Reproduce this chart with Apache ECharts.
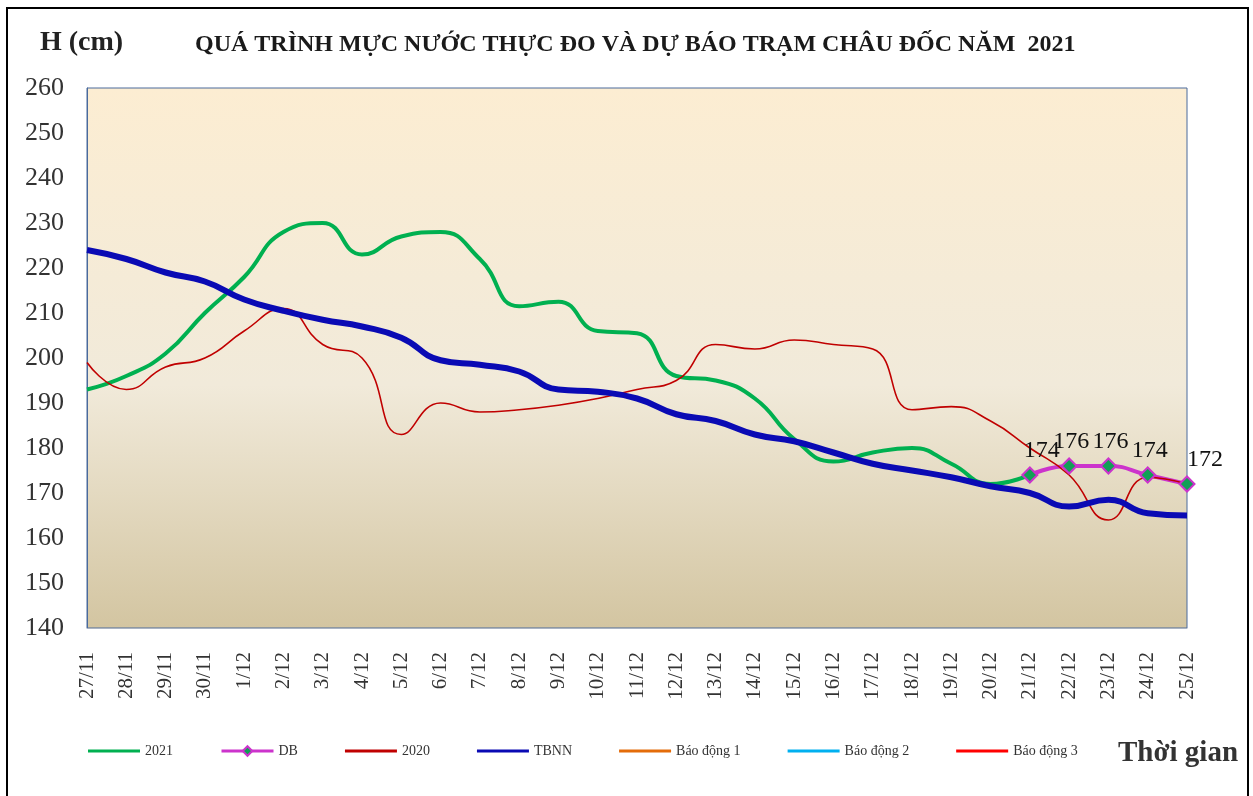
<!DOCTYPE html>
<html>
<head>
<meta charset="utf-8">
<script src="https://cdn.jsdelivr.net/npm/echarts@6/dist/echarts.min.js"></script>
<style>
  html, body { margin: 0; padding: 0; background: #fff; }
  #chart { width: 1253px; height: 796px; }
</style>
</head>
<body>
<div id="chart"></div>
<script>
// --- số liệu ---
const categories = ['27/11', '28/11', '29/11', '30/11', '1/12', '2/12', '3/12', '4/12', '5/12', '6/12',
  '7/12', '8/12', '9/12', '10/12', '11/12', '12/12', '13/12', '14/12', '15/12', '16/12',
  '17/12', '18/12', '19/12', '20/12', '21/12', '22/12', '23/12', '24/12', '25/12'];

// thực đo 2021
const h2021 = [193, 196, 201, 210, 218, 228, 230, 223, 227, 228,
  222, 211.5, 212.5, 206, 205.5, 196, 195, 191, 182, 177,
  179, 180, 176.5, 172, 174, null, null, null, null];

// dự báo
const hDB = [null, null, null, null, null, null, null, null, null, null,
  null, null, null, null, null, null, null, null, null, null,
  null, null, null, null, 174, 176, 176, 174, 172];

// cùng kỳ 2020
const h2020 = [199, 193, 198, 200, 206, 211, 203, 200, 183, 190,
  188, 188.5, 189.5, 191, 193, 195, 203, 202, 204, 203,
  202, 188.5, 189.2, 186, 180, 174, 164, 173.5, 172];

// trung bình nhiều năm
const hTBNN = [224, 222, 219, 217, 213, 210.5, 208.5, 207, 204.5, 199.5,
  198.5, 197, 193, 192.5, 191, 187.5, 186, 183, 181.5, 179,
  176.5, 175, 173.5, 171.5, 170, 167, 168.5, 165.5, 165];

// mức báo động (ngoài khung trục, chỉ hiện ở chú thích)
const bd1 = [];
const bd2 = [];
const bd3 = [];

const yTicks = { min: 140, max: 260, step: 10 };

const SERIF = '"Liberation Serif", "DejaVu Serif", serif';

// lệch nhãn số dự báo
const dbLabelOffset = [[12, 0], [2, 0], [2, 0], [2, 0], [18, 0]];

const chart = echarts.init(document.getElementById('chart'));

let k = 0;
const dbData = hDB.map(v => {
  if (v === null) return null;
  const off = dbLabelOffset[k++];
  return { value: v, label: { offset: off } };
});

const lineSeries = (name, data, color, width) => ({
  name: name,
  type: 'line',
  data: data,
  smooth: 0.5,
  symbol: 'none',
  connectNulls: false,
  lineStyle: { color: color, width: width },
  itemStyle: { color: color }
});

const LINE_ICON = 'path://M0,0H52V3H0Z';

const option = {
  backgroundColor: '#fff',
  animation: false,
  title: {
    text: 'QUÁ TRÌNH MỰC NƯỚC THỰC ĐO VÀ DỰ BÁO TRẠM CHÂU ĐỐC NĂM  2021',
    left: 190,
    top: 28,
    textStyle: { fontFamily: SERIF, fontSize: 24, fontWeight: 'bold', color: '#1a1a1a' }
  },
  graphic: [
    {
      type: 'rect',
      shape: { x: 7, y: 8, width: 1241, height: 800 },
      style: { fill: 'none', stroke: '#000', lineWidth: 2 },
      silent: true
    },
    {
      type: 'text',
      left: 40,
      top: 29,
      style: { text: 'H (cm)', font: 'bold 28px ' + SERIF, fill: '#222' }
    },
    {
      type: 'text',
      left: 1118,
      top: 739,
      style: { text: 'Thời gian', font: 'bold 29px ' + SERIF, fill: '#333' }
    }
  ],
  legend: {
    left: 88,
    top: 744,
    padding: 0,
    itemWidth: 52,
    itemHeight: 12,
    itemGap: 47,
    lineStyle: { width: 3 },
    textStyle: { fontFamily: SERIF, fontSize: 14, color: '#333' },
    data: [
      { name: '2021', icon: LINE_ICON },
      { name: 'DB' },
      { name: '2020', icon: LINE_ICON },
      { name: 'TBNN', icon: LINE_ICON },
      { name: 'Báo động 1', icon: LINE_ICON },
      { name: 'Báo động 2', icon: LINE_ICON },
      { name: 'Báo động 3', icon: LINE_ICON }
    ]
  },
  grid: {
    left: 87,
    right: 66,
    top: 88,
    bottom: 168,
    show: true,
    borderColor: '#4a6a9c',
    borderWidth: 1,
    backgroundColor: new echarts.graphic.LinearGradient(0, 0, 0, 1, [
      { offset: 0, color: '#fcedd2' },
      { offset: 0.55, color: '#f1eada' },
      { offset: 1, color: '#d3c5a1' }
    ])
  },
  xAxis: {
    type: 'category',
    data: categories,
    boundaryGap: false,
    axisLine: { lineStyle: { color: '#a9b3c4', width: 1 } },
    axisTick: { show: false },
    splitLine: { show: false },
    axisLabel: {
      rotate: 90,
      margin: 24,
      interval: 0,
      fontFamily: SERIF,
      fontSize: 21,
      color: '#333'
    }
  },
  yAxis: {
    type: 'value',
    min: yTicks.min,
    max: yTicks.max,
    interval: yTicks.step,
    axisLine: { show: true, lineStyle: { color: '#4a6a9c', width: 1 } },
    axisTick: { show: false },
    splitLine: { show: false },
    axisLabel: {
      margin: 23,
      fontFamily: SERIF,
      fontSize: 26,
      color: '#333'
    }
  },
  series: [
    lineSeries('2021', h2021, '#00b050', 4),
    {
      name: 'DB',
      type: 'line',
      data: dbData,
      smooth: 0.5,
      symbol: 'diamond',
      symbolSize: 15,
      lineStyle: { color: '#cc33cc', width: 4 },
      itemStyle: { color: '#119f56', borderColor: '#cc33cc', borderWidth: 2 },
      label: {
        show: true,
        position: 'top',
        distance: 4,
        fontFamily: SERIF,
        fontSize: 24,
        color: '#111'
      }
    },
    lineSeries('2020', h2020, '#c00000', 1.6),
    lineSeries('TBNN', hTBNN, '#0a0ab4', 6),
    lineSeries('Báo động 1', bd1, '#e46c0a', 3),
    lineSeries('Báo động 2', bd2, '#00b0f0', 3),
    lineSeries('Báo động 3', bd3, '#ff0000', 3)
  ]
};

chart.setOption(option);
</script>
</body>
</html>
